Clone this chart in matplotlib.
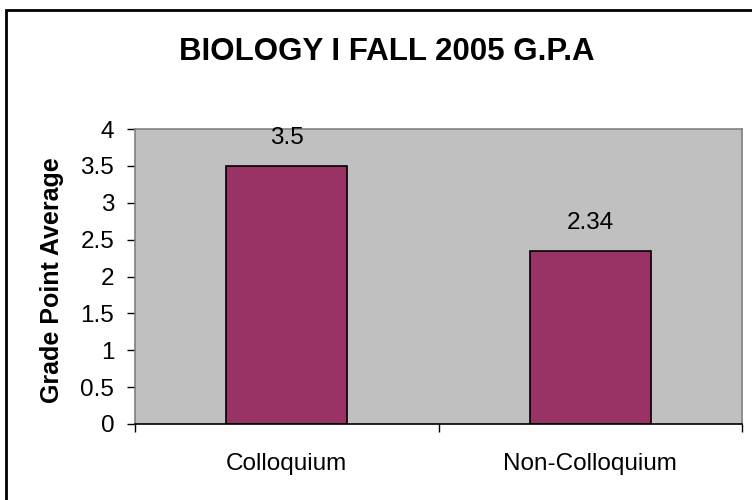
import matplotlib
matplotlib.use('Agg')
import matplotlib.pyplot as plt
from matplotlib.patches import Rectangle

plt.rcParams['font.family'] = ['Liberation Sans', 'DejaVu Sans']

categories = ['Colloquium', 'Non-Colloquium']
gpa = [3.5, 2.34]
value_labels = ['3.5', '2.34']
yticks = [0, 0.5, 1, 1.5, 2, 2.5, 3, 3.5, 4]
ytick_labels = ['0', '0.5', '1', '1.5', '2', '2.5', '3', '3.5', '4']

fig = plt.figure(figsize=(7.52, 5.0), dpi=100)
ax = fig.add_axes([135/752, 76/500, 607/752, 295/500])

xs = list(range(len(categories)))
ax.set_facecolor('#C0C0C0')
ax.bar(xs, gpa, width=0.4, color='#993366', edgecolor='black', linewidth=1.2, zorder=3)

for x, v, lab in zip(xs, gpa, value_labels):
    ax.annotate(lab, (x, v), xytext=(0, 16), textcoords='offset points',
                ha='center', va='baseline', fontsize=17.5, zorder=4, annotation_clip=False)

ax.set_xlim(-0.5, 1.5)
ax.set_ylim(0, 4)
ax.set_yticks(yticks)
ax.set_yticklabels(ytick_labels, fontsize=17.5)
ax.set_xticks(xs)
ax.set_xticklabels(categories, fontsize=17.5)
ax.set_xticks([-0.5, 0.5, 1.5], minor=True)
ax.tick_params(axis='x', which='major', length=0, pad=21)
ax.tick_params(axis='x', which='minor', length=6, width=1, color='black', direction='out')
ax.tick_params(axis='y', length=6, width=1, color='black', direction='out', pad=9)

for s in ['top', 'right', 'left']:
    ax.spines[s].set_color('#808080')
    ax.spines[s].set_linewidth(1.2)
ax.spines['bottom'].set_color('black')
ax.spines['bottom'].set_linewidth(1.2)
ax.spines['bottom'].set_zorder(5)

ax.set_ylabel('Grade Point Average', fontsize=18, fontweight='bold')
ax.yaxis.set_label_coords(-71/607, (424 - 280)/295)

fig.text(387/752, 1 - 60/500, 'BIOLOGY I FALL 2005 G.P.A', ha='center', va='baseline',
         fontsize=22.5, fontweight='bold')

# outer chart frame
fig.patches.append(Rectangle((6/752, -0.1), 1.2, 0.98 + 0.1, transform=fig.transFigure,
                             fill=False, edgecolor='black', linewidth=2))

fig.savefig('out.png', dpi=100)
